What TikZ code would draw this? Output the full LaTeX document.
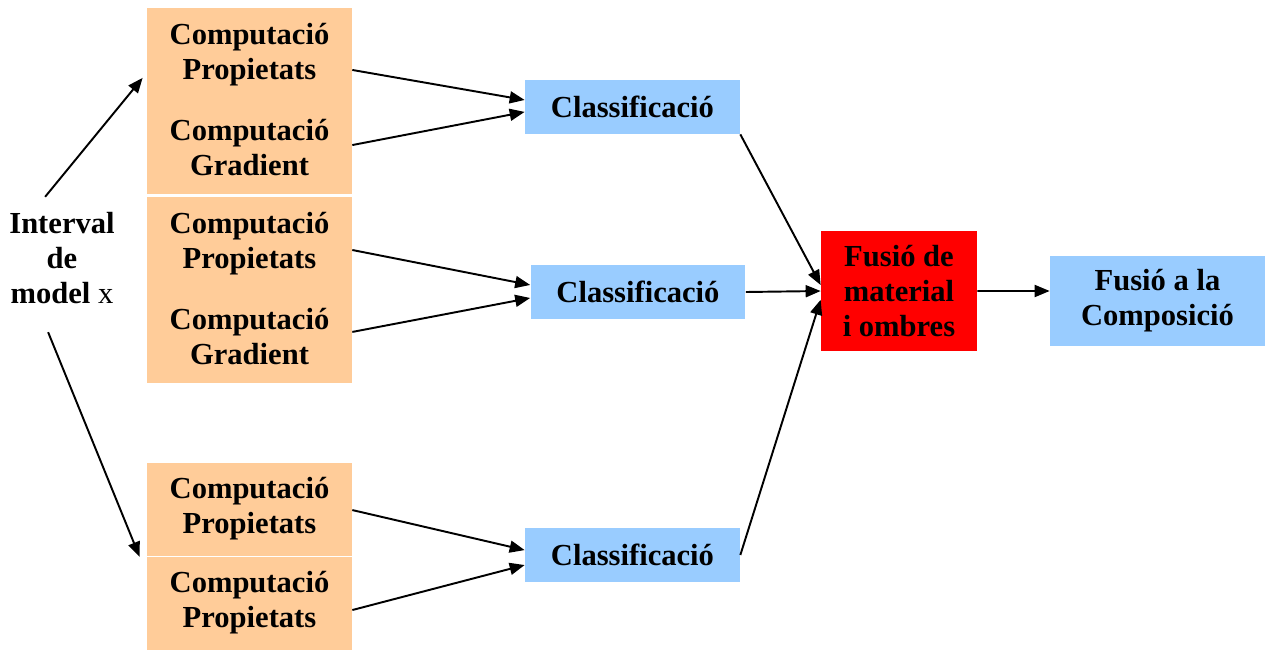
\documentclass[tikz,border=0pt]{standalone}
\usepackage{fontspec}
\setmainfont{Liberation Serif}
\usetikzlibrary{arrows.meta}
\definecolor{peach}{RGB}{255,204,153}
\definecolor{skyblue}{RGB}{153,204,255}

\begin{document}
\begin{tikzpicture}
[x=0.02cm,y=-0.02cm,
  boxtext/.style={align=center,inner sep=0pt,
    font=\bfseries\fontsize{17.4}{20}\selectfont},
  computebox/.style={boxtext,shape=rectangle,fill=peach,
    minimum width=4.1cm,minimum height=1.86cm},
  classbox/.style={boxtext,shape=rectangle,fill=skyblue,
    minimum width=4.3cm,minimum height=1.08cm},
  fusebox/.style={boxtext,shape=rectangle,fill=red,
    minimum width=3.12cm,minimum height=2.4cm},
  linedecorate/.style={-{Triangle[length=0.3cm,width=0.24cm]},line width=1.1pt}]
\useasboundingbox (0,0) rectangle (1265,650);
%% computation boxes
\foreach \nodename/\x/\y/\what in {
  p1/249.5/54.5/Propietats, g1/249.5/147.5/Gradient,
  p2/249.5/243.5/Propietats, g2/249.5/336.5/Gradient,
  p3/249.5/509/Propietats, p4/249.5/603/Propietats}
{
  \node (\nodename) at (\x,\y) [computebox] {Computació\\\what};
}
%% classification boxes
\foreach \nodename/\x/\y in {c1/632.5/107, c2/638/292, c3/632.5/555}
{
  \node (\nodename) at (\x,\y) [classbox] {Classificació};
}
\node (fus) at (899,291) [fusebox] {Fusió de\\material\\i ombres};
\node (fin) at (1157.5,301) [classbox,minimum height=1.8cm] {Fusió a la\\Composició};
\node (src) at (62,258) [boxtext] {Interval\\de\\model \textmd{x}};
%% connectors (start, its shift, end, its shift)
\foreach \startnode/\sx/\sy/\endnode/\ex/\ey in {
  src.north/-9.6/8.5/p1.west/-2.3/-13.3,
  src.south/-7.9/-15.9/p3.south west/-4/-0.6,
  p1.east/0/-8.8/c1.west/0/4, g1.east/0/1.4/c1.west/0/-2.8,
  p2.east/0/-3.7/c2.west/0/4, g2.east/0/2.6/c2.west/0/-3.4,
  p3.east/0/-0.6/c3.west/0/2.8, p4.east/0/-4/c3.west/0/-5.7,
  c1.south east/0/0/fus.west/0/3.4, c2.east/0/0/fus.west/0/0,
  c3.east/0/0/fus.west/0/-5, fus.east/0/0/fin.west/0/5.7}
{
  \draw[linedecorate] ([xshift=\sx pt,yshift=\sy pt]\startnode)
    -- ([xshift=\ex pt,yshift=\ey pt]\endnode);
}
\end{tikzpicture}
\end{document}
